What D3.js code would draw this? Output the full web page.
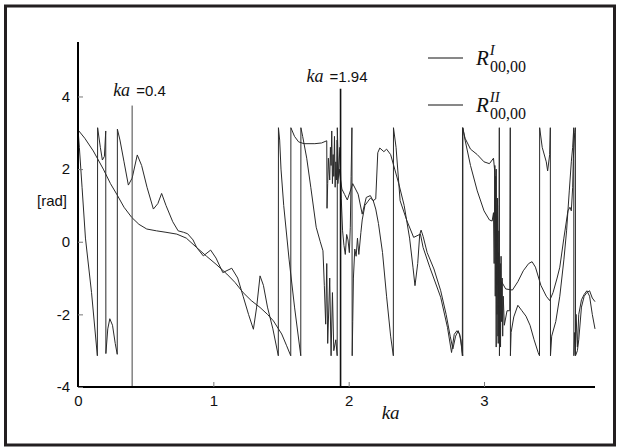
<!DOCTYPE html>
<html>
<head>
<meta charset="utf-8">
<script src="https://cdn.jsdelivr.net/npm/d3@7"></script>
<style>
  html, body { margin: 0; padding: 0; background: #fff; }
  svg { display: block; }
</style>
</head>
<body>
<svg id="chart" width="618" height="447"></svg>
<script>
/* global d3 */
var kaTicks = [0, 1, 2, 3],
  phaseTicks = [-4, -2, 0, 2, 4],
  markerKa = [0.4, 1.94],
  legendSup = ["I", "II"];

// phase of R^I_00,00, [ka, rad]
var seriesI = [
  [0,3.08],[.05,2.85],[.113,2.5],[.187,2.0],[.24,1.6],[.286,1.31],[.34,.95],[.397,.67],[.45,.48],
  [.508,.35],[.58,.30],[.65,.26],[.73,.21],[.80,.10],[.877,-.16],[.95,-.40],[1.02,-.62],[1.10,-.89],
  [1.16,-1.12],[1.22,-1.40],[1.28,-1.62],[1.345,-1.81],[1.40,-2.0],[1.444,-2.18],[1.505,-2.54],
  [1.54,-2.85],[1.572,-3.14],[1.573,3.14],[1.60,2.9],[1.63,2.75],[1.67,2.70],[1.75,2.70],[1.80,2.72],
  [1.838,2.78],[1.840,0.92],[1.845,1.6],[1.85,2.3],[1.855,2.0],[1.86,1.7],[1.865,2.6],[1.87,2.1],
  [1.875,3.05],[1.88,1.6],[1.885,2.4],[1.89,1.8],[1.895,2.9],[1.90,1.5],[1.905,2.2],[1.91,1.7],
  [1.915,2.8],[1.92,1.6],[1.93,2.0],[1.94,1.7],[1.95,1.45],[1.97,1.3],[1.99,1.15],[2.03,1.6],
  [2.07,1.31],[2.10,.76],[2.13,1.22],[2.16,1.27],[2.18,1.13],[2.20,1.18],[2.215,2.45],[2.23,2.58],
  [2.26,2.48],[2.28,2.55],[2.31,2.40],[2.34,2.0],[2.37,1.6],[2.41,1.0],[2.45,0.1],[2.475,-.7],
  [2.49,-1.21],[2.51,-.6],[2.525,.2],[2.535,.32],[2.55,.15],[2.58,-.3],[2.63,-.75],[2.68,-1.35],
  [2.72,-2.0],[2.75,-2.6],[2.77,-2.95],[2.79,-2.6],[2.81,-2.45],[2.83,-2.7],[2.84,-3.14],[2.841,3.14],
  [2.86,2.85],[2.90,2.55],[2.95,2.4],[3.00,2.2],[3.04,2.15],[3.07,2.3],[3.08,1.9],[3.085,-.2],
  [3.09,2.0],[3.095,-1.2],[3.10,1.0],[3.105,-2.8],[3.11,.3],[3.115,-2.4],[3.12,-.6],[3.125,-2.0],
  [3.13,-1.1],[3.16,-1.3],[3.21,-1.33],[3.25,-1.1],[3.29,-.8],[3.33,-.6],[3.355,-.55],[3.38,-.7],
  [3.42,-1.2],[3.46,-1.5],[3.485,-1.62],[3.51,-1.4],[3.54,-1.0],[3.56,-.7],[3.59,.1],[3.62,.85],
  [3.635,.95],[3.645,.85],[3.655,1.5],[3.66,2.3],[3.67,3.0],[3.675,3.14],[3.676,-3.14],[3.69,-3.0],
  [3.70,-2.7],[3.72,-1.8],[3.74,-1.5],[3.76,-1.4],[3.78,-1.35],[3.80,-1.55],[3.82,-1.65]
];

// phase of R^II_00,00, [ka, rad]
var seriesII = [
  [0,3.1],[.01,2.6],[.03,1.5],[.055,.1],[.1,-1.4],[.143,-3.14],[.145,3.14],[.165,2.6],[.18,2.25],
  [.195,2.35],[.205,3.05],[.206,-3.08],[.22,-2.4],[.235,-2.12],[.255,-2.3],[.275,-2.8],[.29,-3.1],
  [.291,3.1],[.31,2.8],[.34,2.2],[.372,1.56],[.40,1.75],[.438,2.39],[.47,2.1],[.51,1.5],[.557,.90],
  [.59,1.05],[.618,1.33],[.65,1.0],[.70,.55],[.74,.30],[.78,.26],[.81,.22],[.85,.05],[.877,-.16],
  [.926,-.39],[.98,-.23],[1.02,-.45],[1.07,-.85],[1.136,-.73],[1.18,-1.0],[1.22,-1.5],[1.26,-2.0],
  [1.296,-2.41],[1.32,-1.8],[1.345,-.94],[1.37,-1.2],[1.40,-1.8],[1.44,-2.4],[1.48,-3.14],[1.481,3.14],
  [1.49,2.8],[1.50,2.0],[1.52,1.0],[1.56,-.5],[1.60,-1.8],[1.646,-3.14],[1.647,3.14],[1.66,2.9],
  [1.69,2.3],[1.72,1.5],[1.76,.4],[1.79,0],[1.81,-.25],[1.82,-1.2],[1.83,-2.27],[1.838,-.6],
  [1.845,-2.8],[1.86,-1.0],[1.87,-3.14],[1.88,-1.4],[1.89,-3.0],[1.905,-2.7],[1.915,-3.14],[1.916,3.14],
  [1.925,1.8],[1.935,2.6],[1.945,1.2],[1.955,.3],[1.965,-.1],[1.975,-.35],[1.985,.2],[1.995,.05],
  [2.005,-.3],[2.012,.4],[2.018,1.8],[2.024,3.14],[2.026,-3.14],[2.03,-2.2],[2.035,-1.0],[2.045,-.2],
  [2.055,-.4],[2.065,.1],[2.075,-.35],[2.09,.25],[2.10,.6],[2.12,1.0],[2.14,1.1],[2.16,1.2],[2.18,1.15],
  [2.20,.9],[2.22,.5],[2.25,-.3],[2.28,-1.5],[2.31,-2.6],[2.33,-3.14],[2.331,3.14],[2.35,2.6],
  [2.38,1.13],[2.43,.58],[2.48,.12],[2.53,.21],[2.55,-.16],[2.60,-.71],[2.68,-1.53],[2.73,-2.36],
  [2.76,-3.05],[2.78,-2.55],[2.80,-2.45],[2.82,-2.54],[2.843,-3.14],[2.844,3.14],[2.86,2.8],[2.90,2.1],
  [2.95,1.4],[3.00,.85],[3.04,.6],[3.06,.57],[3.07,.8],[3.075,-.6],[3.08,2.1],[3.083,-1.5],[3.086,1.8],
  [3.09,-2.9],[3.093,.5],[3.096,-2.0],[3.10,1.2],[3.103,-2.6],[3.106,-.3],[3.11,-1.8],[3.113,3.14],
  [3.114,-3.14],[3.118,-.8],[3.122,-2.9],[3.126,-.4],[3.13,-2.2],[3.134,-1.0],[3.138,-2.6],
  [3.142,-1.5],[3.15,-2.3],[3.17,-1.9],[3.19,-1.9],
  [3.194,3.14],[3.195,-3.14],[3.20,-2.5],[3.22,-2.07],[3.25,-1.75],[3.28,-1.9],[3.31,-2.05],[3.34,-2.3],
  [3.37,-2.7],[3.40,-3.05],[3.41,-3.14],[3.411,3.14],[3.43,2.6],[3.46,2.2],[3.47,1.95],[3.485,2.4],
  [3.49,3.14],[3.491,-3.14],[3.50,-2.6],[3.53,-2.2],[3.56,-1.5],[3.59,-.5],[3.61,.3],[3.63,1.4],
  [3.645,2.2],[3.655,2.6],[3.663,3.14],[3.664,-3.14],[3.67,-2.5],[3.675,-3.1],[3.68,-2.0],[3.69,-2.9],
  [3.70,-2.0],[3.72,-1.6],[3.74,-1.45],[3.76,-1.35],[3.78,-1.5],[3.80,-2.0],[3.82,-2.4]
];

var svg = d3.select("#chart"),
  x = d3.scaleLinear().domain([0, 3.82]).range([78, 595]),
  y = d3.scaleLinear().domain([-4, 5.5]).range([387, 42]),
  sans = "'Liberation Sans', Arial, sans-serif",
  serif = "'Liberation Serif', 'Times New Roman', serif";

// outer frame
svg.append("rect")
  .attr("x", 5.5).attr("y", 6)
  .attr("width", 609).attr("height", 439)
  .attr("fill", "none")
  .attr("stroke", "#231f20")
  .attr("stroke-width", 3);

// curves
var line = d3.line()
  .x(function (d) { return x(d[0]); })
  .y(function (d) { return y(d[1]); });

[seriesI, seriesII].forEach(function (s) {
  svg.append("path")
    .datum(s)
    .attr("d", line)
    .attr("fill", "none")
    .attr("stroke", "#2a2a2a")
    .attr("stroke-width", 1);
});

// marker lines ka = 0.4 / 1.94
var markerTop = [3.75, 4.21],
  markerW = [1, 1.6],
  labelDx = [-19, -34],
  labelV = [4.0, 4.41];
markerKa.forEach(function (k, i) {
  svg.append("line")
    .attr("x1", x(k)).attr("x2", x(k))
    .attr("y1", y(markerTop[i])).attr("y2", y(-4))
    .attr("stroke", i ? "#111" : "#444")
    .attr("stroke-width", markerW[i]);
  var t = svg.append("text")
    .attr("x", x(k) + labelDx[i])
    .attr("y", y(labelV[i]))
    .attr("fill", "#111");
  t.append("tspan")
    .attr("font-family", serif).attr("font-style", "italic")
    .attr("font-size", 18).text("ka");
  t.append("tspan")
    .attr("dx", 6)
    .attr("font-family", sans).attr("font-size", 15)
    .text("=" + k);
});

// axes
var fmt = function (d) { return String(d); };
var xAxis = d3.axisBottom(x).tickValues(kaTicks).tickFormat(fmt)
    .tickSizeInner(-5).tickSizeOuter(0).tickPadding(8),
  yAxis = d3.axisLeft(y).tickValues(phaseTicks).tickFormat(fmt)
    .tickSizeInner(-5).tickSizeOuter(0).tickPadding(8);

var gx = svg.append("g").attr("transform", "translate(0," + y(-4) + ")").call(xAxis);
var gy = svg.append("g").attr("transform", "translate(" + x(0) + ",0)").call(yAxis);

[gx, gy].forEach(function (g) {
  g.select(".domain").attr("stroke", "#000").attr("stroke-width", 2);
  g.selectAll(".tick line").attr("stroke", "#777");
  g.selectAll(".tick text")
    .attr("font-family", sans).attr("font-size", 15).attr("fill", "#111");
});
gx.select(".domain").attr("d", "M" + x(0) + ",0H" + x(3.82));
gy.select(".domain").attr("d", "M0," + y(-4) + "V" + y(5.5));

// axis titles
svg.append("text")
  .attr("x", x(2.31)).attr("y", 419)
  .attr("text-anchor", "middle")
  .attr("font-family", serif).attr("font-style", "italic")
  .attr("font-size", 19).attr("fill", "#111")
  .text("ka");

svg.append("text")
  .attr("x", 67).attr("y", 206)
  .attr("text-anchor", "end")
  .attr("font-family", sans).attr("font-size", 15).attr("fill", "#111")
  .text("[rad]");

// legend
var legY = [58, 105];
legendSup.forEach(function (s, i) {
  var ly = legY[i];
  svg.append("line")
    .attr("x1", 428).attr("x2", 463)
    .attr("y1", ly).attr("y2", ly)
    .attr("stroke", "#111").attr("stroke-width", 1);
  var t = svg.append("text")
    .attr("x", 476).attr("y", ly + 7)
    .attr("font-family", serif).attr("fill", "#111");
  t.append("tspan").attr("font-style", "italic").attr("font-size", 21).text("R");
  t.append("tspan").attr("font-style", "italic").attr("font-size", 15)
    .attr("dx", 1).attr("dy", -10).text(s);
  t.append("tspan").attr("font-size", 16)
    .attr("x", 490).attr("dy", 17).text("00,00");
});
</script>
</body>
</html>
